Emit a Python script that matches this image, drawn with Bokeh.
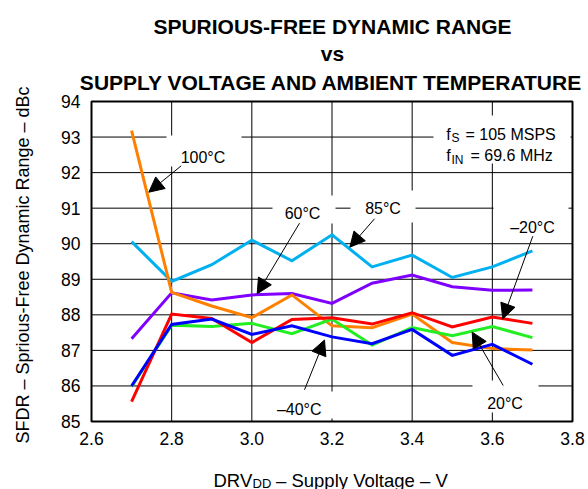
import math
from bokeh.plotting import figure
from bokeh.models import Range1d, FixedTicker, PrintfTickFormatter, Label, Arrow, NormalHead
from bokeh.embed import file_html
from bokeh.resources import INLINE

# ---------------- data ----------------
volts = [2.7, 2.8, 2.9, 3.0, 3.1, 3.2, 3.3, 3.4, 3.5, 3.6, 3.7]
sfdr_85c = [90.06, 88.94, 89.41, 90.10, 89.52, 90.25, 89.35, 89.68, 89.05, 89.35, 89.80]
sfdr_60c = [87.33, 88.62, 88.42, 88.56, 88.60, 88.32, 88.89, 89.12, 88.79, 88.69, 88.70]
sfdr_100c = [93.18, 88.63, 88.25, 87.92, 88.56, 87.69, 87.64, 88.02, 87.22, 87.05, 87.01]
sfdr_20c = [85.98, 87.71, 87.67, 87.76, 87.47, 87.88, 87.15, 87.64, 87.41, 87.67, 87.36]
sfdr_m20c = [85.56, 88.02, 87.90, 87.22, 87.87, 87.92, 87.74, 88.06, 87.66, 87.94, 87.76]
sfdr_m40c = [86.00, 87.73, 87.88, 87.45, 87.69, 87.38, 87.19, 87.59, 86.86, 87.17, 86.61]

x_ticks = [2.6, 2.8, 3.0, 3.2, 3.4, 3.6, 3.8]
y_ticks = [85, 86, 87, 88, 89, 90, 91, 92, 93, 94]

FONT = "Liberation Sans"
W, H = 588, 489    # figure size

# picture-pixel -> data helpers (chart box spans x 91..572, y 101..421)
def X(px):
    return x_ticks[0] + (px - 91) / (572 - 91) * (x_ticks[-1] - x_ticks[0])

def Y(py):
    return y_ticks[-1] - (py - 101) / (421 - 101) * (y_ticks[-1] - y_ticks[0])

p = figure(width=W, height=H, output_backend="svg", toolbar_location=None,
           x_range=Range1d(X(0), X(W)), y_range=Range1d(Y(H), Y(0)),
           min_border=0)
p.min_border_left = 0
p.min_border_right = 0
p.min_border_top = 0
p.min_border_bottom = 0
p.title.text = ""
p.background_fill_color = "white"
p.border_fill_color = "white"
p.outline_line_color = None
p.xgrid.visible = False
p.ygrid.visible = False

# axes drawn at the chart box edges
p.xaxis.fixed_location = y_ticks[0]
p.yaxis.fixed_location = x_ticks[0]
p.xaxis.ticker = FixedTicker(ticks=x_ticks)
p.yaxis.ticker = FixedTicker(ticks=y_ticks)
p.xaxis.formatter = PrintfTickFormatter(format="%.1f")
for ax in (p.xaxis, p.yaxis):
    ax.axis_line_color = None
    ax.major_tick_line_color = None
    ax.minor_tick_line_color = None
    ax.major_tick_out = 0
    ax.major_tick_in = 0
    ax.major_label_text_font = FONT
    ax.major_label_text_font_size = "17.5px"
    ax.major_label_text_color = "black"
p.xaxis.major_label_standoff = 10
p.yaxis.major_label_standoff = 11

# grid lines
p.segment(x0=x_ticks[1:-1], y0=[y_ticks[0]] * (len(x_ticks) - 2),
          x1=x_ticks[1:-1], y1=[y_ticks[-1]] * (len(x_ticks) - 2),
          line_color="black", line_width=1)
p.segment(x0=[x_ticks[0]] * (len(y_ticks) - 2), y0=y_ticks[1:-1],
          x1=[x_ticks[-1]] * (len(y_ticks) - 2), y1=y_ticks[1:-1],
          line_color="black", line_width=1)

# white boxes behind annotation texts (cover grid lines)
boxes = [
    (166, 241, 135, 166),
    (272, 335, 195, 223),
    (350, 415, 190, 222),
    (493, 568, 200, 238),
    (472, 538, 380, 412),
    (262, 336, 391, 418),
    (433, 570, 115, 163),
]
p.quad(left=[X(b[0]) for b in boxes], right=[X(b[1]) for b in boxes],
       top=[Y(b[2]) for b in boxes], bottom=[Y(b[3]) for b in boxes],
       fill_color="white", line_color=None)

series = [
    (sfdr_85c, "#00B0F0"),
    (sfdr_60c, "#8000FF"),
    (sfdr_100c, "#FF8000"),
    (sfdr_20c, "#22EE22"),
    (sfdr_m20c, "#FF0000"),
    (sfdr_m40c, "#0000FF"),
]
for ys, col in series:
    p.line(volts, ys, line_color=col, line_width=3, line_join="miter")

# chart box border
p.quad(left=x_ticks[0], right=x_ticks[-1], bottom=y_ticks[0], top=y_ticks[-1],
       fill_color=None, line_color="black", line_width=2)

# annotation labels
def lab(px, py, text, size="16px", align="center", bold=False, angle=0.0):
    p.add_layout(Label(x=X(px), y=Y(py), text=text, text_font=FONT, text_font_size=size,
                       text_align=align, text_baseline="alphabetic", text_color="black",
                       text_font_style="bold" if bold else "normal", angle=angle))

lab(202.5, 157, "100\u00b0C")
lab(302, 213.3, "60\u00b0C")
lab(382.5, 208.3, "85\u00b0C")
lab(532, 226.7, "\u201320\u00b0C")
lab(504.5, 403.3, "20\u00b0C")
lab(298.7, 409.3, "\u201340\u00b0C")

# f_S / f_IN
lab(445.7, 133.5, "f", align="left")
lab(451, 137.5, "S", size="12px", align="left")
lab(465, 133.5, "= 105 MSPS", align="left")
lab(445.7, 155, "f", align="left")
lab(451, 159, "IN", size="12px", align="left")
lab(470, 155, "= 69.6 MHz", align="left")

# arrows
arrows = [
    ((180.7, 165.3), (148.3, 191.7)),
    ((299.0, 222.7), (256.7, 293.3)),
    ((374.0, 218.3), (349.3, 246.7)),
    ((532.3, 235.7), (502.3, 318.3)),
    ((502.7, 385.0), (471.7, 331.7)),
    ((304.0, 389.3), (324.0, 339.5)),
]
for (sx, sy), (ex, ey) in arrows:
    p.add_layout(Arrow(end=NormalHead(size=15, fill_color="black", line_color="black", line_width=1),
                       x_start=X(sx), y_start=Y(sy), x_end=X(ex), y_end=Y(ey),
                       line_color="black", line_width=1))

# titles
lab(332, 26, "SPURIOUS-FREE DYNAMIC RANGE", size="21px", bold=True)
lab(332, 53, "vs", size="21px", bold=True)
lab(331, 81.5, "SUPPLY VOLTAGE AND AMBIENT TEMPERATURE", size="21px", bold=True)

# axis titles
lab(22.5, 264.5, "SFDR \u2013 Sprious-Free Dynamic Range \u2013 dBc", size="18px", angle=math.pi / 2)
lab(213, 480, "DRV", size="18.5px", align="left")
lab(252, 483, "DD", size="13px", align="left")
lab(275.5, 480, "\u2013 Supply Voltage \u2013 V", size="18.5px", align="left")

open("out.html", "w").write(file_html(p, INLINE))
